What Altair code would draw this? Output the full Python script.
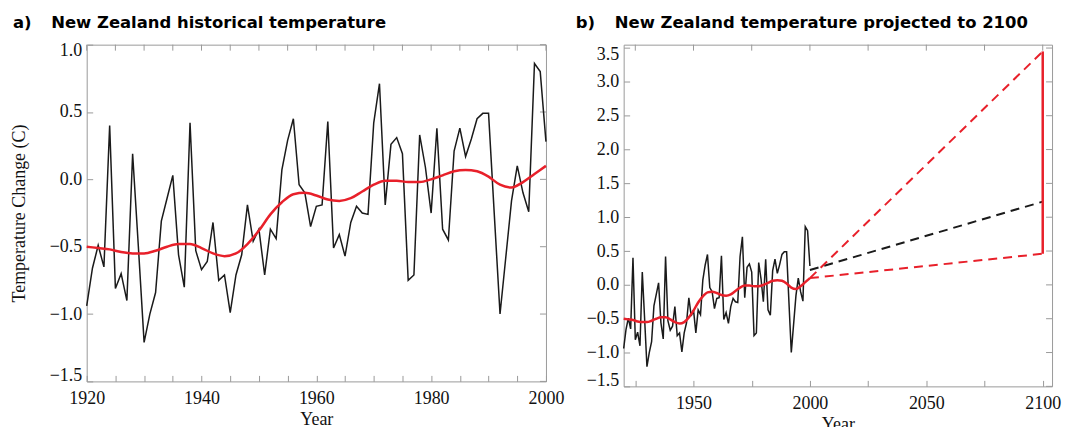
import altair as alt
import pandas as pd

# ---------------- data ----------------
years_hist = list(range(1920, 2001))
temp_hist = [
    -0.94, -0.66, -0.49, -0.65, 0.40, -0.81, -0.70, -0.90, 0.19, -0.50,
    -1.21, -1.00, -0.84, -0.31, -0.14, 0.03, -0.56, -0.80, 0.42, -0.53,
    -0.67, -0.61, -0.32, -0.75, -0.71, -0.99, -0.71, -0.56, -0.19, -0.46,
    -0.37, -0.71, -0.37, -0.44, 0.07, 0.29, 0.45, -0.04, -0.10, -0.35,
    -0.20, -0.19, 0.43, -0.51, -0.41, -0.57, -0.32, -0.20, -0.25, -0.26,
    0.42, 0.71, -0.19, 0.26, 0.31, 0.19, -0.75, -0.71, 0.33, 0.09,
    -0.25, 0.38, -0.37, -0.45, 0.21, 0.38, 0.17, 0.30, 0.45, 0.49,
    0.49, -0.26, -1.00, -0.58, -0.16, 0.10, -0.10, -0.24, 0.86, 0.80,
    0.28,
]

smooth_years = list(range(1920, 2001, 2))
smooth_vals = [
    -0.50, -0.51, -0.52, -0.54, -0.55, -0.55, -0.53, -0.50, -0.48, -0.48,
    -0.51, -0.55, -0.57, -0.55, -0.48, -0.38, -0.26, -0.17, -0.11, -0.10,
    -0.12, -0.15, -0.16, -0.14, -0.09, -0.04, -0.01, -0.01, -0.02, -0.02,
    0.00, 0.03, 0.06, 0.07, 0.06, 0.02, -0.04, -0.06, -0.02, 0.04,
    0.10,
]

proj_years = [2000, 2100]
proj_mid = [0.22, 1.23]
proj_high = [0.10, 3.45]
proj_low = [0.10, 0.46]

range_year = [2100]
range_low = [0.46]
range_high = [3.45]

left_xticks = list(range(1920, 2001, 5))
left_yticks = [-1.5, -1.0, -0.5, 0.0, 0.5, 1.0]
right_xticks = list(range(1925, 2101, 25))
right_yticks = [-1.5, -1.0, -0.5, 0.0, 0.5, 1.0, 1.5, 2.0, 2.5, 3.0, 3.5]

title_a = "a)\u00a0\u00a0\u2002New Zealand historical temperature"
title_b = "b)\u00a0\u00a0\u2002New Zealand temperature projected to 2100"

# ---------------- style ----------------
SERIF = "Liberation Serif"
TSANS = "DejaVu Sans"
GRAY = "#9a9a9a"
BLACK = "#1a1a1a"
RED = "#e8202a"
TICK = 6
FS = 18

hist = pd.DataFrame({"year": years_hist, "temp": temp_hist})
smooth = pd.DataFrame({"year": smooth_years, "temp": smooth_vals})


def encs(xdom, ydom, xticks, xstep, yticks, ytitle, yflush):
    xaxis = alt.Axis(
        values=xticks,
        format="d",
        labelExpr=f"datum.value % {xstep} == 0 ? datum.label : ''",
        offset=-TICK, tickSize=TICK, tickColor=GRAY, domain=False, grid=False,
        labelPadding=8, labelFlush=False, labelOverlap=False,
        labelFont=SERIF, labelFontSize=FS, labelColor="#111",
        title="Year", titleFont=SERIF, titleFontSize=FS, titleFontWeight="normal",
        titleColor="#111", titlePadding=3,
    )
    yaxis = alt.Axis(
        values=yticks, format=".1f",
        offset=-TICK, tickSize=TICK, tickColor=GRAY, domain=False, grid=False,
        labelPadding=5, labelOverlap=False, labelFlush=yflush, labelFlushOffset=3,
        labelFont=SERIF, labelFontSize=FS, labelColor="#111",
        title=ytitle, titleFont=SERIF, titleFontSize=FS, titleFontWeight="normal",
        titleColor="#111", titlePadding=21,
    )
    x = alt.X("year:Q", scale=alt.Scale(domain=xdom, nice=False, zero=False), axis=xaxis)
    y = alt.Y("temp:Q", scale=alt.Scale(domain=ydom, nice=False, zero=False), axis=yaxis)
    return x, y


def frame_ticks(x, y, xticks, yticks, W):
    top = alt.Chart(pd.DataFrame({"year": xticks})).mark_rule(
        color=GRAY, strokeWidth=1
    ).encode(x=x, y=alt.value(0), y2=alt.value(TICK))
    right = alt.Chart(pd.DataFrame({"temp": yticks})).mark_rule(
        color=GRAY, strokeWidth=1
    ).encode(y=y, x=alt.value(W), x2=alt.value(W - TICK))
    return [top, right]


def title(text, dx, offset):
    return alt.TitleParams(text, anchor="start", frame="group", dx=dx, offset=offset,
                           baseline="alphabetic", font=TSANS, fontSize=16.5,
                           fontWeight="bold", color="#000")


# ---------------- left panel ----------------
WL, HL = 461, 338
xl, yl = encs([1920, 2000], [-1.5, 1.0], left_xticks, 20, left_yticks,
              "Temperature Change (C)", 1)
left = alt.layer(
    *frame_ticks(xl, yl, left_xticks, left_yticks, WL),
    alt.Chart(hist).mark_line(color=BLACK, strokeWidth=1.5).encode(x=xl, y=yl),
    alt.Chart(smooth).mark_line(color=RED, strokeWidth=2.5, interpolate="monotone").encode(x=xl, y=yl),
).properties(width=WL, height=HL, title=title(title_a, -74, -3))

# ---------------- right panel ----------------
WR, HR = 430, 343
xr, yr = encs([1920, 2104], [-1.5, 3.55], right_xticks, 50, right_yticks, None, 5)
mid_df = pd.DataFrame({"year": proj_years, "temp": proj_mid})
high_df = pd.DataFrame({"year": proj_years, "temp": proj_high})
low_df = pd.DataFrame({"year": proj_years, "temp": proj_low})
rng_df = pd.DataFrame({"year": range_year, "temp": range_low, "temp2": range_high})

right = alt.layer(
    *frame_ticks(xr, yr, right_xticks, right_yticks, WR),
    alt.Chart(hist).mark_line(color=BLACK, strokeWidth=1.5).encode(x=xr, y=yr),
    alt.Chart(smooth).mark_line(color=RED, strokeWidth=2.5, interpolate="monotone").encode(x=xr, y=yr),
    alt.Chart(mid_df).mark_line(color=BLACK, strokeWidth=2, strokeDash=[9, 6]).encode(x=xr, y=yr),
    alt.Chart(high_df).mark_line(color=RED, strokeWidth=2, strokeDash=[9, 6]).encode(x=xr, y=yr),
    alt.Chart(low_df).mark_line(color=RED, strokeWidth=2, strokeDash=[9, 6]).encode(x=xr, y=yr),
    alt.Chart(rng_df).mark_rule(color=RED, strokeWidth=2.5).encode(x=xr, y=yr, y2="temp2:Q"),
).properties(width=WR, height=HR, title=title(title_b, -48, 0))

chart = alt.hconcat(left, right, spacing=78, bounds="flush").configure_view(
    stroke=GRAY, strokeWidth=1
).properties(
    padding={"left": 1, "top": 5, "right": 0, "bottom": 0},
    background="white",
)

chart.save("out.html", embed_options={"renderer": "svg", "actions": False})
